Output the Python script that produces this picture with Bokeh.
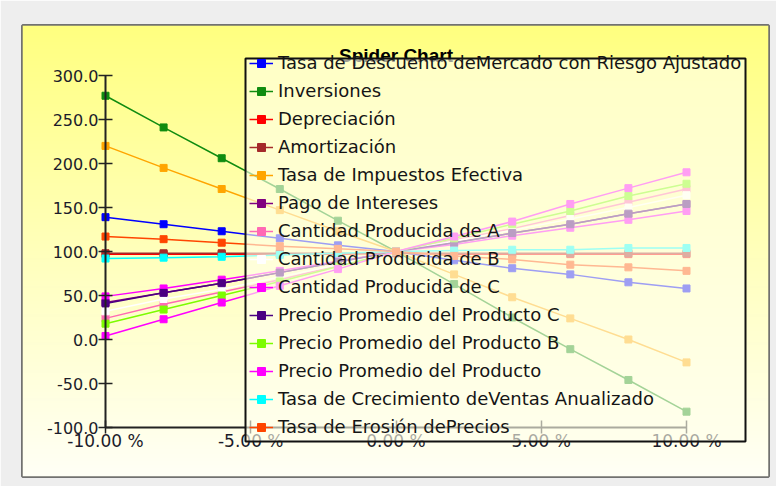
import numpy as np
from bokeh.plotting import figure
from bokeh.models import (Range1d, Legend, LegendItem, BoxAnnotation, Label,
                          SingleIntervalTicker, PrintfTickFormatter)
from bokeh.embed import file_html
from bokeh.resources import INLINE

# ---------------- data ----------------
x_pct = [-10, -8, -6, -4, -2, 0, 2, 4, 6, 8, 10]

tasa_descuento = [139, 131, 123, 115, 107, 100, 90, 81, 74, 65, 58]
inversiones = [277, 241, 206, 171, 135, 100, 63, 25, -11, -46, -82]
depreciacion = [97, 97, 97, 97, 97, 98, 97, 97, 97, 97, 97]
amortizacion = [98, 98, 98, 98, 98, 98, 98, 98, 98, 98, 98]
tasa_impuestos = [220, 195, 171, 147, 123, 100, 74, 48, 24, 0, -26]
pago_intereses = [42, 53, 64, 76, 88, 100, 110, 121, 131, 143, 154]
cantidad_a = [24, 40, 54, 68, 84, 100, 113, 126, 141, 156, 171]
cantidad_b = [32, 46, 57, 71, 85, 100, 112, 124, 137, 150, 164]
cantidad_c = [49, 58, 68, 78, 89, 100, 108, 118, 127, 136, 146]
precio_c = [41, 53, 64, 76, 88, 100, 110, 121, 131, 143, 154]
precio_b = [18, 34, 50, 66, 83, 100, 115, 131, 146, 163, 177]
precio = [4, 23, 42, 61, 80, 100, 117, 134, 154, 172, 190]
crecimiento = [92, 93, 94, 96, 98, 100, 101, 102, 102, 104, 104]
erosion = [117, 114, 110, 106, 103, 100, 95, 91, 85, 82, 78]

labels = [
    "Tasa de Descuento deMercado con Riesgo Ajustado",
    "Inversiones",
    "Depreciación",
    "Amortización",
    "Tasa de Impuestos Efectiva",
    "Pago de Intereses",
    "Cantidad Producida de A",
    "Cantidad Producida de B",
    "Cantidad Producida de C",
    "Precio Promedio del Producto C",
    "Precio Promedio del Producto B",
    "Precio Promedio del Producto",
    "Tasa de Crecimiento deVentas Anualizado",
    "Tasa de Erosión dePrecios",
]
values = [tasa_descuento, inversiones, depreciacion, amortizacion, tasa_impuestos,
          pago_intereses, cantidad_a, cantidad_b, cantidad_c, precio_c, precio_b,
          precio, crecimiento, erosion]
colors = ["#0000FF", "#108C10", "#FF0000", "#A52A2A", "#FFA500", "#800080",
          "#FF69B4", "#FFFFFF", "#FF00FF", "#4B0082", "#7CFC00", "#FF00FF",
          "#00FFFF", "#FF4500"]

title_text = "Spider Chart"
y_ticks_interval = 50
x_ticks_interval = 5

# ---------------- geometry (page px -> data) ----------------
X_PX0, X_PXPU = 105.0, 29.05   # x=-10 at 105px, px per percent
Y_PX0, Y_PXPU = 75.0, 0.88     # y=300 at 75px, px per unit


def px2x(px):
    return -10 + (px - X_PX0) / X_PXPU


def py2y(py):
    return 300 - (py - Y_PX0) / Y_PXPU


FL, FR, FT, FB = 22, 768, 25, 476   # frame edges on page
W, H = 776, 486

p = figure(width=W, height=H, output_backend="svg", toolbar_location=None,
           title_location=None,
           x_range=Range1d(px2x(FL), px2x(FR)), y_range=Range1d(py2y(FB), py2y(FT)),
           min_border_left=FL, min_border_right=W - FR,
           min_border_top=FT, min_border_bottom=H - FB)
p.border_fill_color = "#EEEEEE"
p.background_fill_color = "#FFFFC0"
p.outline_line_color = "#5A5A5A"
p.outline_line_width = 3
p.outline_line_alpha = 0.85
p.xgrid.visible = False
p.ygrid.visible = False

# gradient background
N = 256
top = np.array([255, 255, 128], dtype=float)
bot = np.array([255, 255, 246], dtype=float)
t = np.linspace(0, 1, N)[:, None]
rgb = bot * (1 - t) + top * t
img = np.zeros((N, 1), dtype=np.uint32)
view = img.view(dtype=np.uint8).reshape((N, 1, 4))
view[:, 0, 0] = rgb[:, 0].astype(np.uint8)
view[:, 0, 1] = rgb[:, 1].astype(np.uint8)
view[:, 0, 2] = rgb[:, 2].astype(np.uint8)
view[:, 0, 3] = 255
x0, x1 = px2x(FL), px2x(FR)
y0, y1 = py2y(FB), py2y(FT)
p.image_rgba(image=[img], x=x0, y=y0, dw=x1 - x0, dh=y1 - y0)

# axes
TICK_COLOR = "#1C1C2A"
p.yaxis.fixed_location = -10
p.xaxis.fixed_location = -100
p.yaxis.bounds = (-100, 300)
p.xaxis.bounds = (-10, 10)
p.yaxis.ticker = SingleIntervalTicker(interval=y_ticks_interval)
p.xaxis.ticker = SingleIntervalTicker(interval=x_ticks_interval)
p.yaxis.formatter = PrintfTickFormatter(format="%.1f")
p.xaxis.formatter = PrintfTickFormatter(format="%.2f %%")
for ax in (p.xaxis, p.yaxis):
    ax.axis_line_color = "#222222"
    ax.axis_line_width = 2
    ax.major_tick_line_color = "#222222"
    ax.major_tick_line_width = 1.5
    ax.major_tick_in = 7
    ax.major_tick_out = 7
    ax.minor_tick_line_color = None
    ax.major_label_text_font = "DejaVu Sans"
    ax.major_label_text_color = TICK_COLOR
p.yaxis.major_label_text_font_size = "16px"
p.xaxis.major_label_text_font_size = "17px"
p.yaxis.major_label_standoff = 0
p.xaxis.major_tick_out = 6
p.xaxis.major_label_standoff = -3

# series
items = []
for lab, vals, col in zip(labels, values, colors):
    lr = p.line(x_pct, vals, line_color=col, line_width=1.5)
    sr = p.scatter(x_pct, vals, marker="square", size=7, fill_color=col, line_color=col)
    items.append(LegendItem(label=lab, renderers=[lr, sr]))

# title (inside panel)
p.add_layout(Label(x=0, y=py2y(55), text=title_text, text_align="center",
                   text_baseline="alphabetic", text_font="Liberation Sans",
                   text_font_style="bold", text_font_size="19px", text_color="#000000"))

# legend box (semi-transparent, overlapping lines)
p.add_layout(BoxAnnotation(left=px2x(245), right=px2x(745), top=py2y(58), bottom=py2y(441),
                           fill_color="#FFFFEC", fill_alpha=0.62,
                           line_color="#111111", line_alpha=1.0, line_width=2))

LEG_H = 14 * 20 + 13 * 7
legend = Legend(items=items, location=(249 - FL, FB - (66 + LEG_H)),
                padding=0, margin=0, spacing=7, label_height=20, glyph_height=20,
                glyph_width=24, label_standoff=5,
                label_text_font="DejaVu Sans", label_text_font_size="18px",
                label_text_color="#151515",
                background_fill_alpha=0, border_line_alpha=0)
p.add_layout(legend)

open("out.html", "w").write(file_html(p, INLINE))
